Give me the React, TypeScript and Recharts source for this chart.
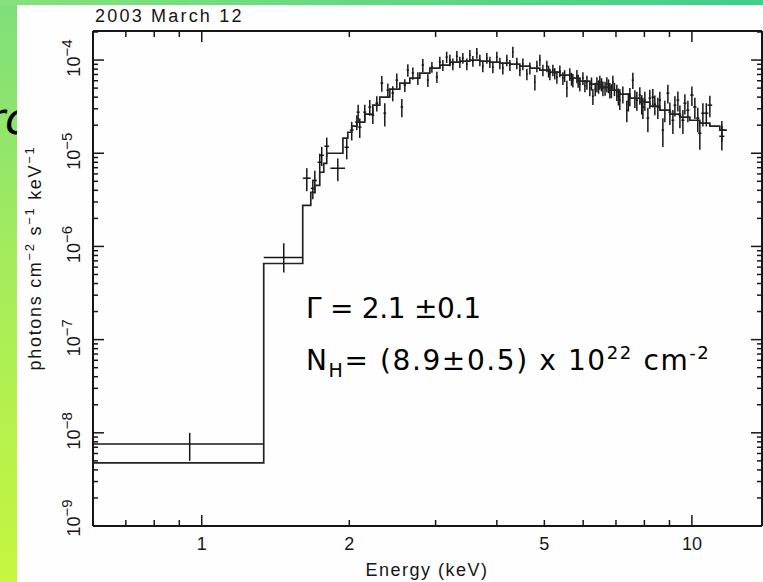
import { ScatterChart, Scatter, XAxis, YAxis, ErrorBar } from 'recharts'

// axis ranges (keV, photons cm^-2 s^-1 keV^-1)
const X_MIN = 0.6
const X_MAX = 13.9
const Y_MIN = 1e-9
const Y_MAX = 2.05e-4

const xTicks = [0.7, 0.8, 0.9, 1, 2, 3, 4, 5, 6, 7, 8, 9, 10]
const xLabelTicks = [1, 2, 5, 10]
const xLongTicks = [1, 10]
const yDecades = [-9, -8, -7, -6, -5, -4]
const yMinorSteps = [2, 3, 4, 5, 6, 7, 8, 9]

// folded model: bin edges (keV) and flux per bin
const modelEdges = [
  0.6, 1.338, 1.607, 1.669, 1.701, 1.741, 1.774, 1.799, 1.941, 1.986, 2.023, 2.072, 2.151, 2.234, 2.308,
  2.419, 2.536, 2.658, 2.786, 2.92, 3.06, 3.208, 3.362, 3.524, 3.693, 3.871, 4.057, 4.252, 4.457, 4.671,
  4.896, 5.131, 5.378, 5.636, 5.907, 6.191, 6.489, 6.801, 7.128, 7.471, 7.83, 8.206, 8.601, 9.017, 9.452,
  9.906, 10.38, 10.88, 11.4, 11.79,
]
const modelFlux = [
  4.75e-9, 6.56e-7, 2.76e-6, 3.81e-6, 4.53e-6, 6.25e-6, 7.8e-6, 1.0e-5, 1.45e-5, 1.68e-5, 1.95e-5, 2.16e-5,
  2.63e-5, 3.28e-5, 4.0e-5, 4.88e-5, 5.66e-5, 6.4e-5, 7.24e-5, 8.2e-5, 8.84e-5, 9.52e-5, 9.76e-5, 1.0e-4,
  9.76e-5, 9.52e-5, 9.29e-5, 9.06e-5, 8.62e-5, 8.2e-5, 7.81e-5, 7.43e-5, 6.9e-5, 6.4e-5, 5.94e-5, 5.52e-5,
  5.13e-5, 4.76e-5, 4.31e-5, 3.9e-5, 3.54e-5, 3.2e-5, 2.9e-5, 2.63e-5, 2.44e-5, 2.26e-5, 2.1e-5, 1.95e-5,
  1.77e-5,
]

// two wide soft bins (asymmetric errors)
const softEnergy = [0.945, 1.47]
const softEnergyErr = [[0.346, 0.393], [0.132, 0.137]]
const softFlux = [7.6e-9, 7.6e-7]
const softFluxErr = [[2.6e-9, 2.4e-9], [2.35e-7, 3.2e-7]]

// [energy, half width, flux (1e-5), flux error (1e-5)]
const spectrum: [number, number, number, number][] = [
  [1.638, 0.03, 0.54, 0.15], [1.685, 0.016, 0.42, 0.1], [1.701, 0.016, 0.51, 0.14], [1.741, 0.018, 0.8, 0.19],
  [1.757, 0.018, 0.95, 0.22], [1.799, 0.02, 1.19, 0.28], [1.895, 0.065, 0.69, 0.19], [1.976, 0.02, 1.16, 0.3],
  [2.023, 0.018, 1.77, 0.4], [2.072, 0.016, 2.16, 0.4], [2.085, 0.015, 2.76, 0.55], [2.101, 0.016, 1.91, 0.45],
  [2.151, 0.015, 2.76, 0.55], [2.202, 0.015, 3.13, 0.6], [2.234, 0.015, 2.56, 0.5], [2.276, 0.015, 3.45, 0.65],
  [2.33, 0.015, 5.66, 1.1], [2.363, 0.015, 2.69, 0.75], [2.397, 0.015, 4.76, 0.85], [2.453, 0.015, 4.42, 0.8],
  [2.5, 0.015, 6.09, 1.1], [2.56, 0.015, 3.13, 0.7], [2.596, 0.015, 5.38, 0.85], [2.633, 0.015, 7.81, 1.2],
  [2.696, 0.015, 7.24, 1.1], [2.76, 0.015, 6.4, 1.0], [2.825, 0.015, 8.84, 1.4], [2.893, 0.015, 6.09, 0.95],
  [2.948, 0.015, 8.41, 1.1], [3.018, 0.015, 6.57, 0.9], [3.06, 0.015, 9.52, 1.3], [3.104, 0.015, 8.84, 1.2],
  [3.16, 0.015, 10.8, 1.5], [3.208, 0.015, 10.0, 1.4], [3.253, 0.015, 9.06, 1.3], [3.315, 0.015, 11.0, 1.5],
  [3.362, 0.015, 9.52, 1.3], [3.409, 0.015, 10.5, 1.4], [3.474, 0.015, 9.06, 1.3], [3.524, 0.015, 11.3, 1.5],
  [3.574, 0.015, 9.76, 1.3], [3.641, 0.015, 11.9, 1.6], [3.693, 0.015, 10.0, 1.4], [3.745, 0.015, 8.62, 1.2],
  [3.816, 0.015, 10.5, 1.4], [3.871, 0.015, 9.52, 1.3], [3.926, 0.015, 8.41, 1.2], [4.0, 0.015, 10.8, 1.5],
  [4.057, 0.015, 9.29, 1.3], [4.114, 0.015, 8.2, 1.2], [4.192, 0.015, 10.0, 1.4], [4.252, 0.015, 8.84, 1.2],
  [4.312, 0.015, 12.2, 1.7], [4.394, 0.015, 9.29, 1.3], [4.457, 0.015, 7.81, 1.1], [4.52, 0.015, 9.06, 1.3],
  [4.606, 0.015, 7.07, 1.0], [4.671, 0.015, 8.2, 1.2], [4.782, 0.015, 5.8, 1.1], [4.828, 0.015, 8.62, 1.2],
  [4.896, 0.015, 10.0, 1.4], [4.966, 0.015, 7.81, 1.1], [5.059, 0.02, 8.62, 1.2], [5.1, 0.02, 7.6, 1.1],
  [5.131, 0.02, 7.07, 1.0], [5.204, 0.02, 7.81, 1.1], [5.25, 0.02, 7.2, 1.0], [5.303, 0.02, 6.57, 1.0],
  [5.378, 0.02, 7.62, 1.1], [5.455, 0.02, 6.4, 1.0], [5.5, 0.02, 6.8, 1.0], [5.558, 0.02, 5.0, 1.0],
  [5.636, 0.02, 7.07, 1.1], [5.68, 0.02, 6.3, 1.0], [5.717, 0.02, 6.09, 1.0], [5.826, 0.02, 6.73, 1.1],
  [5.86, 0.02, 6.0, 0.95], [5.907, 0.02, 5.52, 0.9], [5.993, 0.02, 6.4, 1.0], [6.05, 0.02, 5.3, 0.8],
  [6.106, 0.025, 5.8, 1.0], [6.191, 0.025, 5.0, 0.9], [6.24, 0.02, 5.6, 0.9], [6.281, 0.025, 4.1, 0.8],
  [6.35, 0.02, 4.9, 0.8], [6.4, 0.025, 5.52, 1.0], [6.45, 0.02, 5.2, 0.85], [6.489, 0.025, 5.8, 1.0],
  [6.54, 0.02, 5.5, 0.9], [6.583, 0.025, 5.0, 0.9], [6.65, 0.02, 5.0, 0.85], [6.707, 0.025, 5.52, 1.0],
  [6.76, 0.02, 5.3, 0.9], [6.801, 0.025, 4.76, 0.9], [6.85, 0.02, 4.7, 0.8], [6.898, 0.025, 5.8, 1.0],
  [6.95, 0.02, 4.9, 0.8], [7.028, 0.03, 4.53, 0.9], [7.08, 0.03, 4.1, 0.85], [7.128, 0.03, 3.71, 0.8],
  [7.23, 0.03, 4.31, 0.9], [7.366, 0.03, 2.9, 0.75], [7.42, 0.03, 3.6, 0.8], [7.471, 0.03, 4.1, 0.9],
  [7.577, 0.04, 6.09, 1.2], [7.65, 0.03, 3.9, 0.85], [7.721, 0.04, 3.71, 0.85], [7.83, 0.04, 4.21, 0.9],
  [7.9, 0.03, 3.4, 0.8], [7.943, 0.04, 3.13, 0.8], [8.017, 0.04, 3.71, 0.85], [8.132, 0.05, 2.38, 0.7],
  [8.206, 0.05, 3.9, 0.9], [8.323, 0.05, 4.0, 0.9], [8.402, 0.05, 3.36, 0.8], [8.521, 0.05, 3.13, 0.8],
  [8.601, 0.05, 3.71, 0.85], [8.725, 0.05, 1.77, 0.6], [8.807, 0.05, 2.9, 0.75], [8.933, 0.06, 4.42, 1.0],
  [9.017, 0.06, 2.76, 0.75], [9.146, 0.06, 2.26, 0.65], [9.233, 0.06, 3.28, 0.8], [9.363, 0.06, 3.71, 0.9],
  [9.452, 0.06, 2.56, 0.7], [9.586, 0.07, 2.26, 0.65], [9.676, 0.07, 3.45, 0.85], [9.813, 0.07, 2.9, 0.75],
  [10.0, 0.08, 4.21, 1.0], [10.14, 0.08, 3.13, 0.8], [10.28, 0.08, 2.38, 0.7], [10.38, 0.08, 1.64, 0.55],
  [10.53, 0.08, 2.69, 0.75], [10.7, 0.1, 2.69, 0.75], [10.88, 0.12, 3.28, 0.85], [11.51, 0.14, 1.77, 0.45],
  [11.51, 0.14, 1.52, 0.45],
]

const INK = '#161616'
const TICK_FONT = '"Liberation Sans", Arial, sans-serif'
const NOTE_FONT = '"DejaVu Sans", "Open Sans", sans-serif'

// step outline of the model
const modelSteps = modelFlux.flatMap((f, i) => [
  { e: modelEdges[i], f },
  { e: modelEdges[i + 1], f },
])

const points = [
  ...softEnergy.map((e, i) => ({ e, f: softFlux[i], ex: softEnergyErr[i], ey: softFluxErr[i] })),
  ...spectrum.map(([e, de, f, df]) => ({ e, f: f * 1e-5, ex: de, ey: df * 1e-5 })),
]

const yTicks: number[] = []
yDecades.forEach((d) => {
  yTicks.push(Math.pow(10, d))
  yMinorSteps.forEach((m) => {
    const v = m * Math.pow(10, d)
    if (v <= Y_MAX) yTicks.push(v)
  })
})

const isDecade = (v: number) => Math.abs(Math.log10(v) - Math.round(Math.log10(v))) < 1e-6

const NoDot = () => <g />

function BottomTick({ x, y, payload }: any) {
  const v = payload.value
  const len = xLongTicks.includes(v) ? 11 : 6
  return (
    <g>
      <line x1={x} y1={y} x2={x} y2={y - len} stroke={INK} strokeWidth={1.5} />
      {xLabelTicks.includes(v) && (
        <text x={x} y={y + 24} textAnchor="middle" fontFamily={TICK_FONT} fontSize={18} fill={INK}>
          {v}
        </text>
      )}
    </g>
  )
}

function TopTick({ x, y, payload }: any) {
  const len = xLongTicks.includes(payload.value) ? 11 : 6
  return <line x1={x} y1={y} x2={x} y2={y + len} stroke={INK} strokeWidth={1.5} />
}

function LeftTick({ x, y, payload }: any) {
  const v = payload.value
  const major = isDecade(v)
  const exp = Math.round(Math.log10(v))
  const bx = x - 13
  // lowest label sits a little above its tick, as in the original
  const cy = exp === yDecades[0] ? y - 8 : y - 2
  return (
    <g>
      <line x1={x} y1={y} x2={x + (major ? 11 : 5)} y2={y} stroke={INK} strokeWidth={1.5} />
      {major && (
        <text
          x={bx}
          y={cy}
          transform={`rotate(-90, ${bx}, ${cy})`}
          textAnchor="middle"
          fontFamily={TICK_FONT}
          fontSize={18}
          fill={INK}
        >
          10<tspan dy={-8} fontSize={15}>{'\u2212' + Math.abs(exp)}</tspan>
        </text>
      )}
    </g>
  )
}

function RightTick({ x, y, payload }: any) {
  const major = isDecade(payload.value)
  return <line x1={x} y1={y} x2={x - (major ? 11 : 5)} y2={y} stroke={INK} strokeWidth={1.5} />
}

const axisLine = { stroke: INK, strokeWidth: 2 }

export default function App() {
  return (
    <div
      style={{
        position: 'absolute',
        left: 0,
        top: 0,
        width: 763,
        height: 582,
        overflow: 'hidden',
        background: 'linear-gradient(180deg, #7ddf7b 0%, #a4ec5c 45%, #c6f63f 100%)',
      }}
    >
      <div
        style={{
          position: 'absolute', left: 0, top: 0, width: 763, height: 5,
          background: 'linear-gradient(90deg, #86e27a, #3ecf8c)',
        }}
      />
      <div
        style={{
          position: 'absolute', left: -13, top: 97, fontFamily: '"DejaVu Sans", sans-serif', fontStyle: 'italic',
          fontSize: 44, color: '#000', lineHeight: 1,
        }}
      >
        rc
      </div>
      <div style={{ position: 'absolute', left: 17, top: 5, right: 0, bottom: 0, background: '#fefefe' }} />

      <div style={{ position: 'absolute', left: 0, top: 0 }}>
        <ScatterChart width={763} height={582} margin={{ top: 30, right: 0, bottom: 55, left: 92 }}>
          <XAxis
            xAxisId="b" type="number" dataKey="e" scale="log" domain={[X_MIN, X_MAX]} allowDataOverflow
            ticks={xTicks} interval={0} tick={BottomTick} tickLine={false} tickSize={0} tickMargin={0}
            height={1} axisLine={axisLine}
          />
          <XAxis
            xAxisId="t" orientation="top" type="number" dataKey="e" scale="log" domain={[X_MIN, X_MAX]}
            allowDataOverflow ticks={xTicks} interval={0} tick={TopTick} tickLine={false} tickSize={0}
            tickMargin={0} height={1} axisLine={axisLine}
          />
          <YAxis
            yAxisId="l" type="number" dataKey="f" scale="log" domain={[Y_MIN, Y_MAX]} allowDataOverflow
            ticks={yTicks} interval={0} tick={LeftTick} tickLine={false} tickSize={0} tickMargin={0}
            width={1} axisLine={axisLine}
          />
          <YAxis
            yAxisId="r" orientation="right" type="number" dataKey="f" scale="log" domain={[Y_MIN, Y_MAX]}
            allowDataOverflow ticks={yTicks} interval={0} tick={RightTick} tickLine={false} tickSize={0}
            tickMargin={0} width={1} axisLine={axisLine}
          />
          <Scatter
            xAxisId="b" yAxisId="l" data={modelSteps} line={{ stroke: '#222', strokeWidth: 1.7 }}
            lineType="joint" shape={NoDot} isAnimationActive={false}
          />
          <Scatter xAxisId="b" yAxisId="l" data={points} shape={NoDot} isAnimationActive={false}>
            <ErrorBar dataKey="ex" direction="x" width={0} stroke={INK} strokeWidth={1.5} />
            <ErrorBar dataKey="ey" direction="y" width={0} stroke={INK} strokeWidth={1.5} />
          </Scatter>
          <Scatter xAxisId="t" yAxisId="r" data={modelSteps} shape={NoDot} isAnimationActive={false} />
        </ScatterChart>
      </div>

      <svg width={763} height={582} style={{ position: 'absolute', left: 0, top: 0, pointerEvents: 'none' }}>
        <text x={95} y={22} fontFamily={TICK_FONT} fontSize={18} letterSpacing={2.2} fill={INK}>
          2003 March 12
        </text>
        <text x={427} y={576} textAnchor="middle" fontFamily={TICK_FONT} fontSize={18} letterSpacing={1.5} fill={INK}>
          Energy (keV)
        </text>
        <text
          transform="translate(41, 258) rotate(-90)" textAnchor="middle" fontFamily={TICK_FONT}
          fontSize={18} letterSpacing={1.7} fill={INK}
        >
          photons cm<tspan dy={-7} fontSize={13}>{'\u22122'}</tspan>
          <tspan dy={7}> s</tspan>
          <tspan dy={-7} fontSize={13}>{'\u22121'}</tspan>
          <tspan dy={7}> keV</tspan>
          <tspan dy={-7} fontSize={13}>{'\u22121'}</tspan>
        </text>
        <text x={306} y={318} fontFamily={NOTE_FONT} fontSize={28} letterSpacing={-0.3} fill="#000">
          Γ = 2.1 ±0.1
        </text>
        <text x={306} y={370} fontFamily={NOTE_FONT} fontSize={28} letterSpacing={1.6} fill="#000">
          N<tspan dy={7} fontSize={19}>H</tspan>
          <tspan dy={-7}>= (8.9±0.5) x 10</tspan>
          <tspan dy={-11} fontSize={18}>22</tspan>
          <tspan dy={11}> cm</tspan>
          <tspan dy={-11} fontSize={18}>-2</tspan>
        </text>
      </svg>
    </div>
  )
}
